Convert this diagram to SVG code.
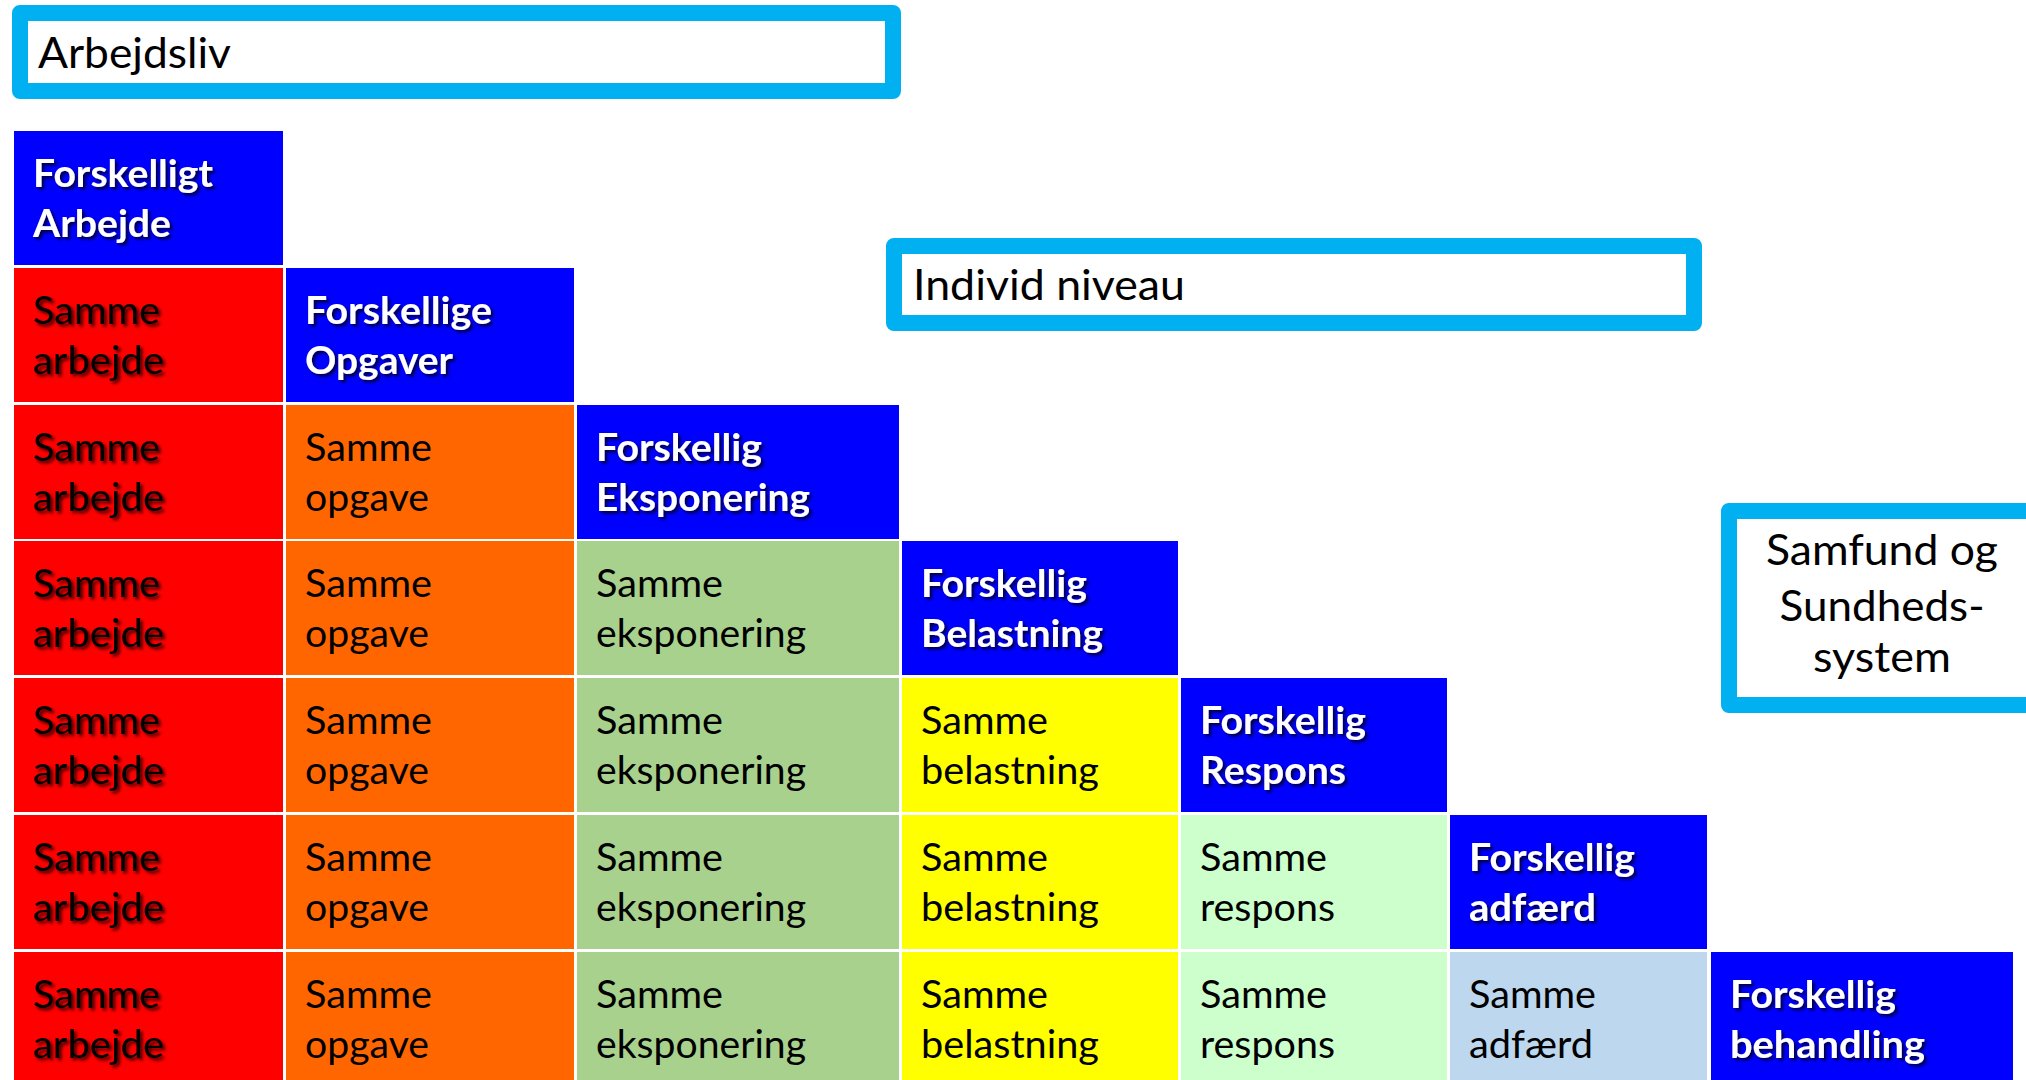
<svg xmlns="http://www.w3.org/2000/svg" width="2026" height="1080" viewBox="0 0 2026 1080">
  <defs>
    <filter id="shadow" x="-10%" y="-30%" width="130%" height="170%">
      <feDropShadow dx="2.5" dy="2.5" stdDeviation="1.6" flood-color="#000" flood-opacity="0.75"/>
    </filter>
    <style>
      text { font-family: Lato, "Open Sans", "Noto Sans", sans-serif; }
      .frame { fill: #fff; stroke: #00B0F0; stroke-width: 16; stroke-linejoin: round; }
      .title { font-size: 43px; fill: #000; }
      .hd { font-size: 38px; font-weight: 700; fill: #fff; filter: url(#shadow); }
      .tx { font-size: 38px; fill: #000; }
      .tx.sh { filter: url(#shadow); }
      .blue { fill: #0000FF; }
      .red { fill: #FF0000; }
      .orange { fill: #FF6600; }
      .green { fill: #A9D18E; }
      .yellow { fill: #FFFF00; }
      .mint { fill: #CCFFCC; }
      .sky { fill: #BDD7EE; }
    </style>
  </defs>
  <rect width="2026" height="1080" fill="#fff"/>

  <!-- level frames -->
  <g id="arbejdsliv">
    <rect class="frame" x="20" y="13" width="873" height="78"/>
    <text class="title" x="38" y="68" textLength="193" lengthAdjust="spacingAndGlyphs">Arbejdsliv</text>
  </g>
  <g id="individ-niveau">
    <rect class="frame" x="894" y="246" width="800" height="77"/>
    <text class="title" x="913" y="300" textLength="272" lengthAdjust="spacingAndGlyphs">Individ niveau</text>
  </g>
  <g id="samfund">
    <rect class="frame" x="1729" y="511" width="320" height="194"/>
    <text class="title" x="1882" y="565" text-anchor="middle" textLength="232" lengthAdjust="spacingAndGlyphs">Samfund og</text>
    <text class="title" x="1882" y="621" text-anchor="middle" textLength="205" lengthAdjust="spacingAndGlyphs">Sundheds-</text>
    <text class="title" x="1882" y="672" text-anchor="middle" textLength="138" lengthAdjust="spacingAndGlyphs">system</text>
  </g>

  <!-- staircase table -->
  <g id="table">
    <!-- row 0 -->
    <g id="r0c0"><rect class="blue" x="14" y="131" width="269" height="134"/>
      <text class="hd" x="33" y="186.5" textLength="180" lengthAdjust="spacingAndGlyphs">Forskelligt</text>
      <text class="hd" x="33" y="236.5" textLength="138" lengthAdjust="spacingAndGlyphs">Arbejde</text></g>

    <!-- row 1 -->
    <g id="r1c0"><rect class="red" x="14" y="268" width="269" height="134"/>
      <text class="tx sh" x="33" y="323.5" textLength="127" lengthAdjust="spacingAndGlyphs">Samme</text>
      <text class="tx sh" x="33" y="373.5" textLength="131" lengthAdjust="spacingAndGlyphs">arbejde</text></g>
    <g id="r1c1"><rect class="blue" x="286" y="268" width="288" height="134"/>
      <text class="hd" x="305" y="323.5" textLength="187" lengthAdjust="spacingAndGlyphs">Forskellige</text>
      <text class="hd" x="305" y="373.5" textLength="148" lengthAdjust="spacingAndGlyphs">Opgaver</text></g>

    <!-- row 2 -->
    <g id="r2c0"><rect class="red" x="14" y="405" width="269" height="134"/>
      <text class="tx sh" x="33" y="460.5" textLength="127" lengthAdjust="spacingAndGlyphs">Samme</text>
      <text class="tx sh" x="33" y="510.5" textLength="131" lengthAdjust="spacingAndGlyphs">arbejde</text></g>
    <g id="r2c1"><rect class="orange" x="286" y="405" width="288" height="134"/>
      <text class="tx" x="305" y="460.5" textLength="127" lengthAdjust="spacingAndGlyphs">Samme</text>
      <text class="tx" x="305" y="510.5" textLength="124" lengthAdjust="spacingAndGlyphs">opgave</text></g>
    <g id="r2c2"><rect class="blue" x="577" y="405" width="322" height="134"/>
      <text class="hd" x="596" y="460.5" textLength="166" lengthAdjust="spacingAndGlyphs">Forskellig</text>
      <text class="hd" x="596" y="510.5" textLength="214" lengthAdjust="spacingAndGlyphs">Eksponering</text></g>

    <!-- row 3 -->
    <g id="r3c0"><rect class="red" x="14" y="541" width="269" height="134"/>
      <text class="tx sh" x="33" y="596.5" textLength="127" lengthAdjust="spacingAndGlyphs">Samme</text>
      <text class="tx sh" x="33" y="646.5" textLength="131" lengthAdjust="spacingAndGlyphs">arbejde</text></g>
    <g id="r3c1"><rect class="orange" x="286" y="541" width="288" height="134"/>
      <text class="tx" x="305" y="596.5" textLength="127" lengthAdjust="spacingAndGlyphs">Samme</text>
      <text class="tx" x="305" y="646.5" textLength="124" lengthAdjust="spacingAndGlyphs">opgave</text></g>
    <g id="r3c2"><rect class="green" x="577" y="541" width="322" height="134"/>
      <text class="tx" x="596" y="596.5" textLength="127" lengthAdjust="spacingAndGlyphs">Samme</text>
      <text class="tx" x="596" y="646.5" textLength="210" lengthAdjust="spacingAndGlyphs">eksponering</text></g>
    <g id="r3c3"><rect class="blue" x="902" y="541" width="276" height="134"/>
      <text class="hd" x="921" y="596.5" textLength="166" lengthAdjust="spacingAndGlyphs">Forskellig</text>
      <text class="hd" x="921" y="646.5" textLength="182" lengthAdjust="spacingAndGlyphs">Belastning</text></g>

    <!-- row 4 -->
    <g id="r4c0"><rect class="red" x="14" y="678" width="269" height="134"/>
      <text class="tx sh" x="33" y="733.5" textLength="127" lengthAdjust="spacingAndGlyphs">Samme</text>
      <text class="tx sh" x="33" y="783.5" textLength="131" lengthAdjust="spacingAndGlyphs">arbejde</text></g>
    <g id="r4c1"><rect class="orange" x="286" y="678" width="288" height="134"/>
      <text class="tx" x="305" y="733.5" textLength="127" lengthAdjust="spacingAndGlyphs">Samme</text>
      <text class="tx" x="305" y="783.5" textLength="124" lengthAdjust="spacingAndGlyphs">opgave</text></g>
    <g id="r4c2"><rect class="green" x="577" y="678" width="322" height="134"/>
      <text class="tx" x="596" y="733.5" textLength="127" lengthAdjust="spacingAndGlyphs">Samme</text>
      <text class="tx" x="596" y="783.5" textLength="210" lengthAdjust="spacingAndGlyphs">eksponering</text></g>
    <g id="r4c3"><rect class="yellow" x="902" y="678" width="276" height="134"/>
      <text class="tx" x="921" y="733.5" textLength="127" lengthAdjust="spacingAndGlyphs">Samme</text>
      <text class="tx" x="921" y="783.5" textLength="178" lengthAdjust="spacingAndGlyphs">belastning</text></g>
    <g id="r4c4"><rect class="blue" x="1181" y="678" width="266" height="134"/>
      <text class="hd" x="1200" y="733.5" textLength="166" lengthAdjust="spacingAndGlyphs">Forskellig</text>
      <text class="hd" x="1200" y="783.5" textLength="146" lengthAdjust="spacingAndGlyphs">Respons</text></g>

    <!-- row 5 -->
    <g id="r5c0"><rect class="red" x="14" y="815" width="269" height="134"/>
      <text class="tx sh" x="33" y="870.5" textLength="127" lengthAdjust="spacingAndGlyphs">Samme</text>
      <text class="tx sh" x="33" y="920.5" textLength="131" lengthAdjust="spacingAndGlyphs">arbejde</text></g>
    <g id="r5c1"><rect class="orange" x="286" y="815" width="288" height="134"/>
      <text class="tx" x="305" y="870.5" textLength="127" lengthAdjust="spacingAndGlyphs">Samme</text>
      <text class="tx" x="305" y="920.5" textLength="124" lengthAdjust="spacingAndGlyphs">opgave</text></g>
    <g id="r5c2"><rect class="green" x="577" y="815" width="322" height="134"/>
      <text class="tx" x="596" y="870.5" textLength="127" lengthAdjust="spacingAndGlyphs">Samme</text>
      <text class="tx" x="596" y="920.5" textLength="210" lengthAdjust="spacingAndGlyphs">eksponering</text></g>
    <g id="r5c3"><rect class="yellow" x="902" y="815" width="276" height="134"/>
      <text class="tx" x="921" y="870.5" textLength="127" lengthAdjust="spacingAndGlyphs">Samme</text>
      <text class="tx" x="921" y="920.5" textLength="178" lengthAdjust="spacingAndGlyphs">belastning</text></g>
    <g id="r5c4"><rect class="mint" x="1181" y="815" width="266" height="134"/>
      <text class="tx" x="1200" y="870.5" textLength="127" lengthAdjust="spacingAndGlyphs">Samme</text>
      <text class="tx" x="1200" y="920.5" textLength="135" lengthAdjust="spacingAndGlyphs">respons</text></g>
    <g id="r5c5"><rect class="blue" x="1450" y="815" width="257" height="134"/>
      <text class="hd" x="1469" y="870.5" textLength="166" lengthAdjust="spacingAndGlyphs">Forskellig</text>
      <text class="hd" x="1469" y="920.5" textLength="127" lengthAdjust="spacingAndGlyphs">adfærd</text></g>

    <!-- row 6 -->
    <g id="r6c0"><rect class="red" x="14" y="952" width="269" height="134"/>
      <text class="tx sh" x="33" y="1007.5" textLength="127" lengthAdjust="spacingAndGlyphs">Samme</text>
      <text class="tx sh" x="33" y="1057.5" textLength="131" lengthAdjust="spacingAndGlyphs">arbejde</text></g>
    <g id="r6c1"><rect class="orange" x="286" y="952" width="288" height="134"/>
      <text class="tx" x="305" y="1007.5" textLength="127" lengthAdjust="spacingAndGlyphs">Samme</text>
      <text class="tx" x="305" y="1057.5" textLength="124" lengthAdjust="spacingAndGlyphs">opgave</text></g>
    <g id="r6c2"><rect class="green" x="577" y="952" width="322" height="134"/>
      <text class="tx" x="596" y="1007.5" textLength="127" lengthAdjust="spacingAndGlyphs">Samme</text>
      <text class="tx" x="596" y="1057.5" textLength="210" lengthAdjust="spacingAndGlyphs">eksponering</text></g>
    <g id="r6c3"><rect class="yellow" x="902" y="952" width="276" height="134"/>
      <text class="tx" x="921" y="1007.5" textLength="127" lengthAdjust="spacingAndGlyphs">Samme</text>
      <text class="tx" x="921" y="1057.5" textLength="178" lengthAdjust="spacingAndGlyphs">belastning</text></g>
    <g id="r6c4"><rect class="mint" x="1181" y="952" width="266" height="134"/>
      <text class="tx" x="1200" y="1007.5" textLength="127" lengthAdjust="spacingAndGlyphs">Samme</text>
      <text class="tx" x="1200" y="1057.5" textLength="135" lengthAdjust="spacingAndGlyphs">respons</text></g>
    <g id="r6c5"><rect class="sky" x="1450" y="952" width="257" height="134"/>
      <text class="tx" x="1469" y="1007.5" textLength="127" lengthAdjust="spacingAndGlyphs">Samme</text>
      <text class="tx" x="1469" y="1057.5" textLength="124" lengthAdjust="spacingAndGlyphs">adfærd</text></g>
    <g id="r6c6"><rect class="blue" x="1711" y="952" width="302" height="134"/>
      <text class="hd" x="1730" y="1007.5" textLength="166" lengthAdjust="spacingAndGlyphs">Forskellig</text>
      <text class="hd" x="1730" y="1057.5" textLength="195" lengthAdjust="spacingAndGlyphs">behandling</text></g>
  </g>
</svg>
